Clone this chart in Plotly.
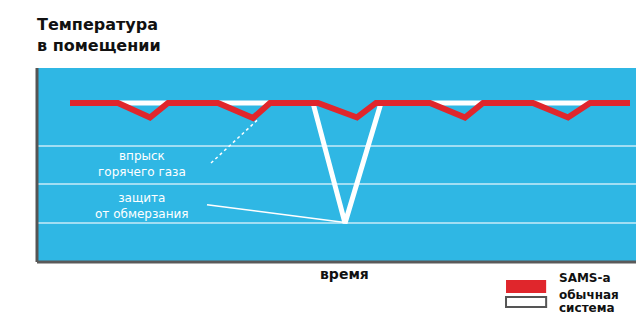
import plotly.graph_objects as go

# Data (time units, temperature units)
sams_x = [33, 81, 113, 131, 181, 216, 233, 281, 320, 339, 393, 428, 446, 496, 531, 553, 593]
sams_y = [82, 82, 74.5, 82, 82, 74.2, 82, 82, 74.5, 82, 82, 74.5, 82, 82, 74.5, 82, 82]
conv_x = [33, 276, 308, 344, 593]
conv_y = [82, 82, 20, 82, 82]
grid_vals = [20, 40, 60]

title_text = "Температура<br>в помещении"
xlabel = "время"
legend_labels = ["SAMS-a", "обычная", "система"]
ann1 = "впрыск<br>горячего газа"
ann2 = "защита<br>от обмерзания"

BLUE = "#2fb7e4"
RED = "#e0262c"

fig = go.Figure()
fig.add_trace(go.Scatter(x=conv_x, y=conv_y, mode="lines",
                         line=dict(color="white", width=5), hoverinfo="skip"))
fig.add_trace(go.Scatter(x=sams_x, y=sams_y, mode="lines",
                         line=dict(color=RED, width=6), hoverinfo="skip"))

# leader lines
fig.add_shape(type="line", x0=174, y0=51, x1=220, y1=73, xref="x", yref="y",
              line=dict(color="white", width=1.5, dash="dot"))
fig.add_shape(type="line", x0=170, y0=29.5, x1=306, y1=20.5, xref="x", yref="y",
              line=dict(color="white", width=1.5))

fig.add_annotation(x=105, y=50.5, xref="x", yref="y", text=ann1, showarrow=False,
                   font=dict(family="DejaVu Sans", size=12, color="white"),
                   align="center")
fig.add_annotation(x=105, y=29, xref="x", yref="y", text=ann2, showarrow=False,
                   font=dict(family="DejaVu Sans", size=12, color="white"),
                   align="center")

# axis borders
fig.add_shape(type="line", x0=0, x1=0, y0=0, y1=1, xref="paper", yref="paper",
              line=dict(color="#555555", width=3))
fig.add_shape(type="line", x0=0, x1=1, y0=0, y1=0, xref="paper", yref="paper",
              line=dict(color="#5a5a5a", width=3))

# title
fig.add_annotation(x=-0.004, y=1.285, xref="paper", yref="paper", text="<b>" + title_text + "</b>",
                   showarrow=False, xanchor="left", yanchor="top", align="left",
                   font=dict(family="DejaVu Sans", size=16, color="#111111"))
# x label
fig.add_annotation(x=0.514, y=-0.113, xref="paper", yref="paper", text="<b>" + xlabel + "</b>",
                   showarrow=False, font=dict(family="DejaVu Sans", size=14, color="#111111"))

# legend
fig.add_shape(type="rect", x0=0.783, x1=0.85, y0=-0.093, y1=-0.16, xref="paper", yref="paper",
              fillcolor=RED, line=dict(width=0))
fig.add_shape(type="rect", x0=0.783, x1=0.85, y0=-0.18, y1=-0.232, xref="paper", yref="paper",
              fillcolor="white", line=dict(color="#555555", width=2))
fig.add_annotation(x=0.87, y=-0.124, xref="paper", yref="paper", text="<b>" + legend_labels[0] + "</b>",
                   showarrow=False, xanchor="left", borderpad=0,
                   font=dict(family="DejaVu Sans", size=12, color="#111111"))
fig.add_annotation(x=0.87, y=-0.21, xref="paper", yref="paper", text="<b>" + legend_labels[1] + "</b>",
                   showarrow=False, xanchor="left", borderpad=0,
                   font=dict(family="DejaVu Sans", size=12, color="#111111"))
fig.add_annotation(x=0.87, y=-0.28, xref="paper", yref="paper", text="<b>" + legend_labels[2] + "</b>",
                   showarrow=False, xanchor="left", borderpad=0,
                   font=dict(family="DejaVu Sans", size=12, color="#111111"))

fig.update_layout(
    width=636, height=324,
    margin=dict(l=37, r=0, t=68, b=62),
    paper_bgcolor="white", plot_bgcolor=BLUE,
    showlegend=False,
    xaxis=dict(range=[0, 599], showgrid=False, zeroline=False, showticklabels=False, ticks=""),
    yaxis=dict(range=[0, 100], tickvals=grid_vals, showgrid=True, gridcolor="rgba(255,255,255,0.55)",
               gridwidth=1.5, zeroline=False, showticklabels=False, ticks=""),
)

fig.write_html("out.html")
